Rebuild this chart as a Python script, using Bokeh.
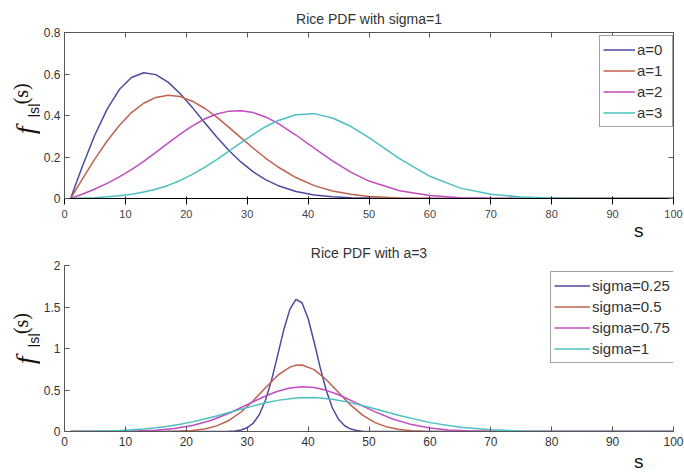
from bokeh.plotting import figure
from bokeh.models import (Range1d, FixedTicker, LinearAxis, Label, Legend, LegendItem,
                          Title, CustomJSTickFormatter)
from bokeh.layouts import column, row
from bokeh.embed import file_html
from bokeh.resources import INLINE

# ---------------- data ----------------
X_TICKS = [0, 10, 20, 30, 40, 50, 60, 70, 80, 90, 100]

# Top panel: Rice PDF with sigma=1, index axis
top_x = [1, 3, 5, 7, 9, 11, 13, 15, 17, 19, 21, 23, 25, 27, 29, 31, 33, 35,
         38, 41, 44, 47, 50, 55, 60, 65, 70, 75, 80, 85, 90, 100]
a0_y = [0, 0.160, 0.307, 0.431, 0.525, 0.583, 0.606, 0.597, 0.561, 0.505, 0.438, 0.366,
        0.296, 0.231, 0.175, 0.128, 0.091, 0.063, 0.034, 0.017, 0.008, 0.004, 0.002,
        0.0003, 0, 0, 0, 0, 0, 0, 0, 0]
a1_y = [0, 0.097, 0.191, 0.277, 0.352, 0.414, 0.459, 0.487, 0.498, 0.491, 0.469, 0.435,
        0.392, 0.343, 0.292, 0.242, 0.195, 0.153, 0.101, 0.062, 0.036, 0.020, 0.010,
        0.003, 0.0007, 0, 0, 0, 0, 0, 0, 0]
a2_y = [0, 0.022, 0.046, 0.073, 0.104, 0.139, 0.179, 0.222, 0.267, 0.310, 0.350, 0.383,
        0.407, 0.421, 0.423, 0.414, 0.393, 0.363, 0.306, 0.243, 0.181, 0.127, 0.084,
        0.037, 0.014, 0.004, 0.001, 0.0003, 0, 0, 0, 0]
a3_y = [0, 0.002, 0.004, 0.008, 0.013, 0.020, 0.031, 0.045, 0.063, 0.087, 0.116, 0.150,
        0.187, 0.228, 0.269, 0.309, 0.346, 0.375, 0.404, 0.409, 0.388, 0.348, 0.293,
        0.192, 0.107, 0.050, 0.020, 0.007, 0.002, 0.0005, 0, 0]
top_labels = ["a=0", "a=1", "a=2", "a=3"]
top_ticks_y = [0, 0.2, 0.4, 0.6, 0.8]

# Bottom panel: Rice PDF with a=3
s025_x = [1, 26, 27, 28, 29, 30, 31, 32, 33, 34, 35, 36, 37, 38, 39, 40, 41, 42, 43, 44,
          45, 46, 47, 48, 49, 50, 52, 100]
s025_y = [0, 0.0006, 0.002, 0.006, 0.018, 0.045, 0.101, 0.205, 0.376, 0.619, 0.917, 1.224,
          1.471, 1.592, 1.551, 1.361, 1.076, 0.766, 0.491, 0.283, 0.147, 0.069, 0.029,
          0.011, 0.004, 0.001, 0, 0]
s05_x = [1, 13, 15, 17, 19, 21, 23, 25, 27, 29, 31, 33, 35, 37, 38, 39, 41, 43, 45, 47,
         49, 51, 53, 55, 57, 59, 61, 63, 65, 100]
s05_y = [0, 0.0001, 0.0005, 0.0016, 0.0047, 0.0128, 0.031, 0.068, 0.133, 0.235, 0.371,
         0.528, 0.675, 0.776, 0.799, 0.802, 0.746, 0.624, 0.470, 0.318, 0.194, 0.107,
         0.053, 0.023, 0.009, 0.003, 0.001, 0.0003, 0, 0]
s075_x = [1, 3, 6, 9, 12, 15, 18, 21, 24, 27, 30, 33, 35, 37, 39, 41, 43, 45, 48, 51, 54,
          57, 60, 63, 66, 69, 72, 76, 80, 100]
s075_y = [0, 0.0001, 0.0005, 0.0019, 0.0057, 0.015, 0.035, 0.072, 0.133, 0.220, 0.324,
          0.428, 0.485, 0.524, 0.540, 0.530, 0.496, 0.443, 0.342, 0.237, 0.148, 0.083,
          0.042, 0.019, 0.008, 0.003, 0.001, 0.0002, 0, 0]
s1_x = top_x
s1_y = a3_y
bot_labels = ["sigma=0.25", "sigma=0.5", "sigma=0.75", "sigma=1"]
bot_ticks_y = [0, 0.5, 1, 1.5, 2]

COLORS = ["#4b4b9e", "#c0604e", "#c04cc0", "#4cc0c0"]

# ---------------- styling helpers ----------------
SANS = "Liberation Sans"
SERIF = "Liberation Serif"
AX = "#555555"
TXT = "#333333"


def style_axis(ax, standoff=3, hidden=False):
    ax.major_tick_in = 5
    ax.major_tick_out = 0
    ax.minor_tick_line_color = None
    ax.axis_line_color = AX
    ax.major_tick_line_color = AX
    ax.major_label_standoff = standoff
    ax.major_label_text_font = SANS
    ax.major_label_text_color = TXT
    ax.major_label_text_font_size = "12px"
    if hidden:
        ax.formatter = CustomJSTickFormatter(code="return ''")
        ax.major_label_text_font_size = "1px"
        ax.major_label_standoff = 0
        ax.axis_line_color = None


def make_fig(height, ymax, yticks, title, border_top, border_bottom, box, title_standoff,
             s_standoff):
    p = figure(width=644, height=height, x_range=Range1d(0, 100), y_range=Range1d(0, ymax),
               output_backend="svg", toolbar_location=None,
               min_border_left=22, min_border_right=11,
               min_border_top=border_top, min_border_bottom=border_bottom)
    p.xgrid.visible = False
    p.ygrid.visible = False
    p.background_fill_color = "white"
    p.border_fill_color = "white"
    p.xaxis.ticker = FixedTicker(ticks=X_TICKS)
    p.yaxis.ticker = FixedTicker(ticks=yticks)
    p.yaxis.major_label_overrides = {t: ("%g" % t) for t in yticks}
    p.xaxis.major_label_overrides = {t: str(t) for t in X_TICKS}
    p.title.text = title
    p.title.align = "center"
    p.title.text_font = SANS
    p.title.text_font_size = "14px"
    p.title.text_font_style = "normal"
    p.title.text_color = TXT
    p.title.standoff = title_standoff
    if box:
        p.outline_line_color = AX
        top = LinearAxis(ticker=FixedTicker(ticks=X_TICKS))
        right = LinearAxis(ticker=FixedTicker(ticks=yticks))
        style_axis(top, hidden=True)
        style_axis(right, hidden=True)
        p.add_layout(top, "above")
        p.add_layout(right, "right")
    else:
        p.outline_line_color = None
    # "s" caption under the x tick labels, near the right end
    p.add_layout(Title(text="s", align="right", offset=30, text_font=SANS,
                       text_font_size="19px", text_font_style="normal",
                       text_color="#111111", standoff=s_standoff), "below")
    return p


def ylabel_fig(height, y_f, y_sub, y_par):
    f = figure(width=40, height=height, x_range=Range1d(0, 40), y_range=Range1d(0, height),
               x_axis_type=None, y_axis_type=None, output_backend="svg",
               toolbar_location=None, min_border=0)
    f.outline_line_color = None
    f.xgrid.visible = False
    f.ygrid.visible = False
    f.border_fill_color = "white"
    f.background_fill_color = "white"
    f.add_layout(Label(x=25, y=y_f, text="f", angle=90, angle_units="deg",
                       text_font=SERIF, text_font_style="italic", text_font_size="28px",
                       text_color="#111111", text_align="left", text_baseline="alphabetic"))
    f.add_layout(Label(x=33, y=y_sub, text="|s|", angle=90, angle_units="deg",
                       text_font=SANS, text_font_size="14px",
                       text_color="#111111", text_align="left", text_baseline="alphabetic"))
    f.add_layout(Label(x=20, y=y_par, text="(s)", angle=90, angle_units="deg",
                       text_font=SERIF, text_font_size="20px",
                       text_color="#111111", text_align="left", text_baseline="alphabetic"))
    return f


# ---------------- top figure ----------------
p1 = make_fig(238, 0.8, top_ticks_y, "Rice PDF with sigma=1", 32, 40, True, 12, -6)
style_axis(p1.xaxis[0], standoff=0)
style_axis(p1.yaxis[0], standoff=4)
items = []
for ys, lab, col in zip([a0_y, a1_y, a2_y, a3_y], top_labels, COLORS):
    r = p1.line(top_x, ys, line_color=col, line_width=1.5)
    items.append(LegendItem(label=lab, renderers=[r]))
leg1 = Legend(items=items, location=(535, 71), padding=3, spacing=0,
              label_height=21, glyph_height=21, glyph_width=32, label_standoff=2,
              label_width=32, label_text_font=SANS, label_text_font_size="15px",
              label_text_color=TXT, border_line_color="#444444", border_line_width=1,
              background_fill_color="white", background_fill_alpha=1, margin=0)
p1.add_layout(leg1)

# ---------------- bottom figure ----------------
p2 = make_fig(236, 2, bot_ticks_y, "Rice PDF with a=3", 26, 43, False, 9, 0)
style_axis(p2.xaxis[0], standoff=5)
style_axis(p2.yaxis[0], standoff=4)
items = []
for xs, ys, lab, col in zip([s025_x, s05_x, s075_x, s1_x], [s025_y, s05_y, s075_y, s1_y],
                            bot_labels, COLORS):
    r = p2.line(xs, ys, line_color=col, line_width=1.5)
    items.append(LegendItem(label=lab, renderers=[r]))
leg2 = Legend(items=items, location=(486, 68), padding=3, spacing=0,
              label_height=21, glyph_height=21, glyph_width=36, label_standoff=2,
              label_width=76, label_text_font=SANS, label_text_font_size="15px",
              label_text_color=TXT, border_line_color="#444444", border_line_width=1,
              background_fill_color="white", background_fill_alpha=1, margin=0)
p2.add_layout(leg2)

yl1 = ylabel_fig(238, 92, 116, 135)
yl2 = ylabel_fig(236, 95.5, 119.5, 138.5)

layout = column(row(yl1, p1, spacing=0), row(yl2, p2, spacing=0), spacing=0)
open("out.html", "w").write(file_html(layout, INLINE))
